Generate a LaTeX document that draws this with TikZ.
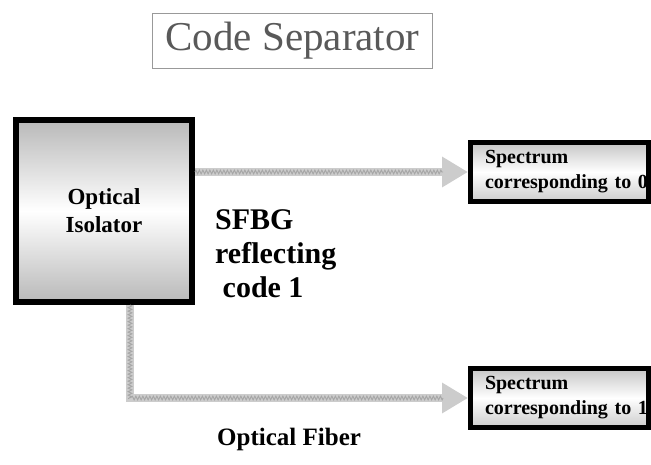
\documentclass[tikz,border=0pt]{standalone}
\usepackage{fontspec}
\setmainfont{Liberation Serif}
\usetikzlibrary{arrows.meta,decorations.pathmorphing,calc}
\tikzset{
  x=1pt, y=-1pt,
  titlebox/.style={draw=gray!80, line width=0.8pt, minimum width=280pt, minimum height=55pt,
    inner sep=0pt, text=black!65, font=\fontsize{41}{46}\selectfont},
  isobox/.style={draw=black, line width=6pt, minimum width=176pt, minimum height=182pt,
    top color=gray!55, bottom color=gray!55, middle color=white, inner sep=0pt,
    align=center, font=\bfseries\fontsize{23}{28}\selectfont},
  specbox/.style={draw=black, line width=5pt, minimum width=178pt, minimum height=59pt,
    top color=gray!45, bottom color=gray!40, middle color=white, inner ysep=0pt,
    inner xsep=14.5pt, text width=149pt, align=left, font=\bfseries\fontsize{20}{25}\selectfont},
  fiber/.style={draw=gray!40, line width=8pt, line join=miter,
    -{Triangle[length=26pt,width=29pt]}},
  fibertex/.style={draw=gray!70, line width=0.9pt,
    decorate, decoration={zigzag, segment length=3.5pt, amplitude=1.8pt}},
  biglabel/.style={inner sep=0pt, align=left, font=\bfseries\fontsize{30}{34}\selectfont},
  fiblabel/.style={inner sep=0pt, font=\bfseries\fontsize{25}{30}\selectfont}
}
\begin{document}
\begin{tikzpicture}
\useasboundingbox (0,0) rectangle (651,465);
\node[titlebox] (title) at (292.5,41) {Code Separator};
\node[isobox] (iso) at (104,211) {Optical\\Isolator};
\node[specbox] (spec0) at (559.5,172) {Spectrum\\\mbox{corresponding to 0}};
\node[specbox] (spec1) at (559.5,398) {Spectrum\\\mbox{corresponding to 1}};
\coordinate (drop) at ($(iso.south)+(26,0)$);
\coordinate (end0) at ($(spec0.west)+(-25,0)$);
\coordinate (end1) at ($(spec1.west)+(-25,0)$);
\draw[fiber] (iso.east |- spec0.west) -- (spec0.west);
\draw[fibertex] (iso.east |- spec0.west) -- (end0);
\draw[fiber] (drop) |- (spec1.west);
\draw[fibertex] (drop) |- (end1);
\node[biglabel, anchor=west] (sfbg) at (215,254) {SFBG\\reflecting\\\hspace*{0.25em}code 1};
\node[fiblabel, anchor=base west] (fib) at (217,445) {Optical Fiber};
\end{tikzpicture}
\end{document}
